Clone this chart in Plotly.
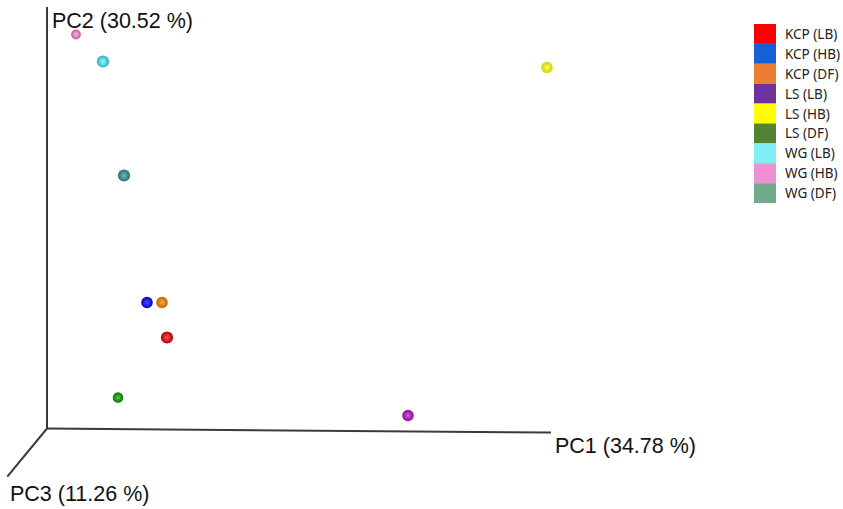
import plotly.graph_objects as go

# ---- data (projected PCoA scores) ----
groups = ["KCP (LB)", "KCP (HB)", "KCP (DF)", "LS (LB)", "LS (HB)", "LS (DF)",
          "WG (LB)", "WG (HB)", "WG (DF)"]
pc1 = [0.120, 0.100, 0.115, 0.361, 0.500, 0.071, 0.056, 0.029, 0.077]
pc2 = [0.091, 0.126, 0.126, 0.013, 0.361, 0.031, 0.367, 0.394, 0.253]
pc3 = [0.60, 0.50, 0.50, 0.50, 0.50, 0.35, 0.60, 0.25, 0.60]   # depth (apparent size)

axis_titles = ["PC1 (34.78 %)", "PC2 (30.52 %)", "PC3 (11.26 %)"]

# ---- styles ----
legend_colors = ["#ff0000", "#1461d8", "#ee7d31", "#7030a0", "#ffff00", "#548235",
                 "#80eef2", "#ee90d2", "#72ab8c"]
point_edge = ["#b00000", "#0000c0", "#c06000", "#80108a", "#d0d000", "#0a700a",
              "#2ab0c0", "#c05aa0", "#2a6e6e"]
point_center = ["#ff5050", "#4a4aff", "#ffa840", "#e050f0", "#ffff60", "#40d040",
                "#a0f8ff", "#ffb8ea", "#70b8b8"]

W, H = 843, 509
x_range = [-0.047, 0.796]
y_range = [-0.0805, 0.4285]

fig = go.Figure()
for i, g in enumerate(groups):
    fig.add_trace(go.Scatter(
        x=[pc1[i]], y=[pc2[i]], mode="markers", name=g, showlegend=False,
        marker=dict(size=8 + 7 * pc3[i], color=point_edge[i],
                    gradient=dict(type="radial", color=point_center[i]),
                    line=dict(width=0)),
        hovertemplate=g + "<extra></extra>"))

axis_line = dict(color="#3a3a3a", width=2)
shapes = [
    dict(type="line", xref="x", yref="y", x0=0, y0=0, x1=0, y1=0.4215, line=axis_line),
    dict(type="line", xref="x", yref="y", x0=0, y0=0, x1=0.504, y1=-0.004, line=axis_line),
    dict(type="line", xref="x", yref="y", x0=0, y0=0, x1=-0.0397, y1=-0.0482, line=axis_line),
]

title_font = dict(family="Liberation Sans, Arial", size=21.5, color="#111111")
annotations = [
    dict(x=0.506, y=-0.0175, xref="x", yref="y", text=axis_titles[0], showarrow=False,
         xanchor="left", yanchor="middle", font=title_font),
    dict(x=0.003, y=0.4075, xref="x", yref="y", text=axis_titles[1], showarrow=False,
         xanchor="left", yanchor="middle", font=title_font),
    dict(x=-0.0387, y=-0.0655, xref="x", yref="y", text=axis_titles[2], showarrow=False,
         xanchor="left", yanchor="middle", font=title_font),
]

# custom legend: colour squares + labels
lx0, lx1 = 754 / W, 776 / W
ly_top, step = 24, 19.9
for i, g in enumerate(groups):
    top = ly_top + i * step
    shapes.append(dict(type="rect", xref="paper", yref="paper",
                       x0=lx0, x1=lx1, y0=1 - (top + step) / H, y1=1 - top / H,
                       fillcolor=legend_colors[i], line=dict(width=0)))
    annotations.append(dict(x=783 / W, y=1 - (top + step / 2) / H, xref="paper", yref="paper",
                            text=g, showarrow=False, xanchor="left", yanchor="middle",
                            font=dict(family="Noto Sans", size=13.5, color="#222222")))

fig.update_layout(
    width=W, height=H, margin=dict(l=0, r=0, t=0, b=0),
    paper_bgcolor="white", plot_bgcolor="white",
    xaxis=dict(range=x_range, visible=False, fixedrange=True),
    yaxis=dict(range=y_range, visible=False, fixedrange=True),
    shapes=shapes, annotations=annotations,
)

fig.write_html("out.html", config={"displayModeBar": False},
               post_script="document.body.style.margin='0';document.body.style.overflow='hidden';")
